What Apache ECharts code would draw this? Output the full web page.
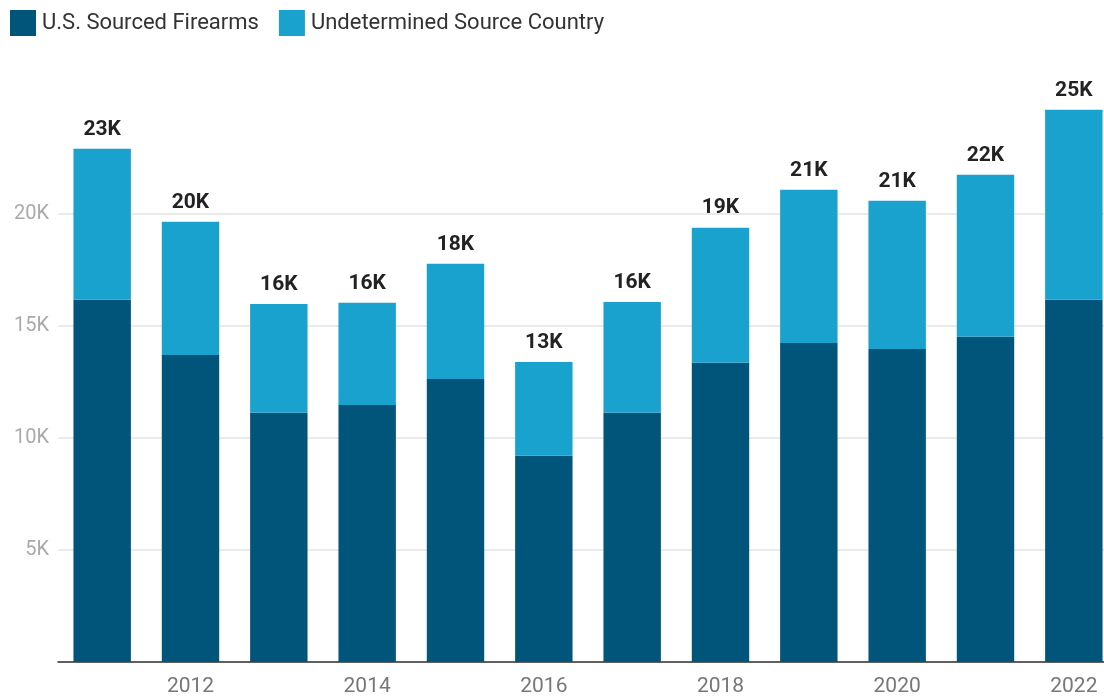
<!DOCTYPE html>
<html>
<head>
<meta charset="utf-8">
<script src="https://cdn.jsdelivr.net/npm/echarts@6/dist/echarts.min.js"></script>
<style>
  html, body { margin: 0; padding: 0; background: #fff; overflow: hidden; width: 1104px; height: 698px; }
  /* the plot runs a little past the right edge of the page */
  #chart { width: 1118px; height: 698px; }
</style>
</head>
<body>
<div id="chart"></div>
<script>
// Firearms traced, by year and source
const years = ['2011', '2012', '2013', '2014', '2015', '2016', '2017', '2018', '2019', '2020', '2021', '2022'];
const usSourced = [16160, 13700, 11120, 11470, 12630, 9200, 11120, 13350, 14240, 13970, 14510, 16160];
const undetermined = [6740, 5940, 4860, 4560, 5140, 4190, 4950, 6030, 6830, 6610, 7230, 8480];
const seriesNames = ['U.S. Sourced Firearms', 'Undetermined Source Country'];

const totals = years.map((_, i) => usSourced[i] + undetermined[i]);
const fmtK = v => Math.round(v / 1000) + 'K';

const chart = echarts.init(document.getElementById('chart'), null, { renderer: 'canvas' });
chart.setOption({
  animation: false,
  textStyle: { fontFamily: 'Roboto, sans-serif' },
  color: ['#01547a', '#1aa2ce'],
  legend: {
    left: 5,
    top: 5,
    itemWidth: 26,
    itemHeight: 26,
    itemGap: 20,
    icon: 'rect',
    textStyle: { fontSize: 22, color: '#333', fontFamily: 'Roboto, sans-serif', padding: [0, 0, 0, 1] },
    data: seriesNames
  },
  grid: { left: 58, top: 104, bottom: 36, right: 0, containLabel: false },
  xAxis: {
    type: 'category',
    data: years,
    axisLine: { lineStyle: { color: '#333', width: 1.5 } },
    axisTick: { show: false },
    axisLabel: {
      interval: (idx) => idx % 2 === 1,
      color: '#777',
      fontSize: 21,
      margin: 14
    }
  },
  yAxis: {
    type: 'value',
    min: 0,
    max: 24900,
    interval: 5000,
    axisLine: { show: false },
    axisTick: { show: false },
    splitLine: { showMaxLine: false, lineStyle: { color: '#e3e3e3', width: 1.5 } },
    axisLabel: {
      showMaxLabel: false,
      formatter: v => (v === 0 || v % 5000 !== 0 ? '' : fmtK(v)),
      color: '#aaa',
      fontSize: 20,
      margin: 9
    }
  },
  series: [
    {
      name: seriesNames[0],
      type: 'bar',
      stack: 'total',
      barCategoryGap: '35%',
      data: usSourced
    },
    {
      name: seriesNames[1],
      type: 'bar',
      stack: 'total',
      barCategoryGap: '35%',
      data: undetermined,
      label: {
        show: true,
        position: 'top',
        distance: 9,
        formatter: p => fmtK(totals[p.dataIndex]),
        color: '#222',
        fontSize: 21,
        fontWeight: 'bold'
      }
    }
  ]
});
</script>
</body>
</html>
